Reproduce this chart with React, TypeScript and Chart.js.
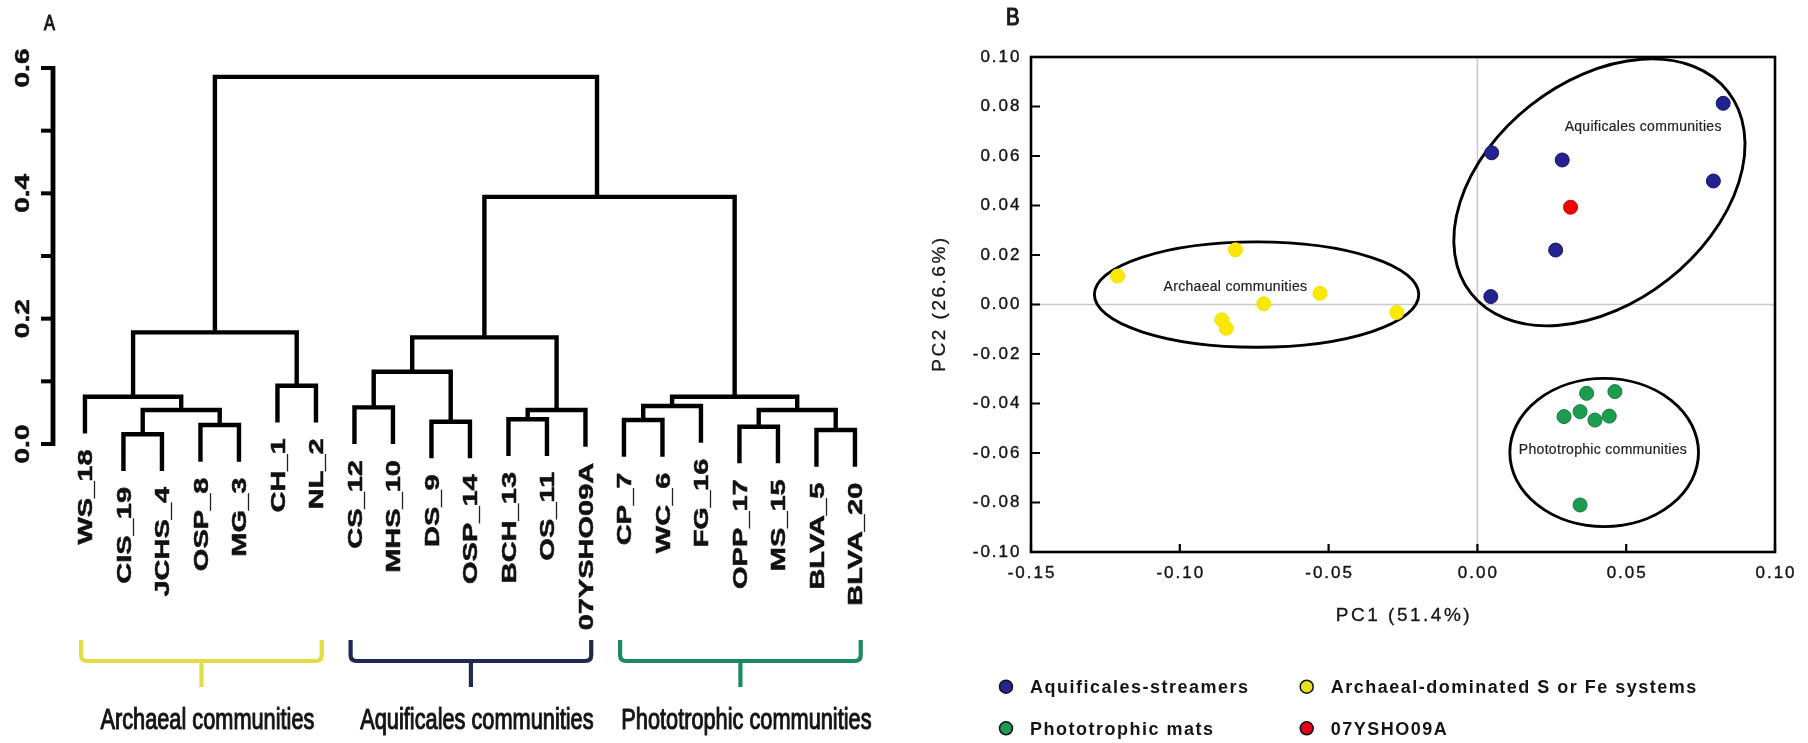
import React, { useEffect, useRef } from "react";
import { Chart, registerables } from "chart.js";

Chart.register(...registerables);

const FONT = '"Liberation Sans", Arial, Helvetica, sans-serif';

// ---------------- Panel A : dendrogram ----------------
const leafLabels = [
  "WS_18", "CIS_19", "JCHS_4", "OSP_8", "MG_3", "CH_1", "NL_2",
  "CS_12", "MHS_10", "DS_9", "OSP_14", "BCH_13", "OS_11", "07YSHO09A",
  "CP_7", "WC_6", "FG_16", "OPP_17", "MS_15", "BLVA_5", "BLVA_20",
];
// hclust-style merges: negative = leaf (1-based), positive = earlier merge (1-based)
const mergeLeft = [-2, -4, 1, -1, -6, 4, -8, -10, 7, -12, 10, 9, -15, 13, -18, -20, 15, 14, 12, 6];
const mergeRight = [-3, -5, 2, 3, -7, 5, -9, -11, 8, -13, -14, 11, -16, -17, -19, -21, 16, 17, 18, 19];
const mergeHeight = [
  0.0155, 0.0303, 0.0542, 0.0754, 0.093, 0.1781, 0.0585, 0.0356, 0.1153, 0.0394,
  0.0542, 0.1702, 0.0383, 0.0606, 0.0276, 0.0223, 0.0542, 0.0754, 0.3944, 0.5858,
];
const leafHang = 0.0585;
const stemOverrideMerge = [19];
const stemOverrideX = [13.3];
const dendroTicks = [0, 0.1, 0.2, 0.3, 0.4, 0.5, 0.6];
const dendroTickLabels = ["0.0", "", "0.2", "", "0.4", "", "0.6"];
const groupNames = ["Archaeal communities", "Aquificales communities", "Phototrophic communities"];
const groupFirstLeaf = [0, 7, 14];
const groupLastLeaf = [6, 13, 20];
const groupColors = ["#e2dd45", "#1e2a50", "#1c8a5f"];

// ---------------- Panel B : PCA ----------------
const seriesNames = ["Aquificales-streamers", "Archaeal-dominated S or Fe systems", "Phototrophic mats", "07YSHO09A"];
const aquiX = [0.0826, 0.0048, 0.0285, 0.0793, 0.0263, 0.0045];
const aquiY = [0.0813, 0.0613, 0.0584, 0.0499, 0.022, 0.0032];
const archX = [-0.1209, -0.0813, -0.0718, -0.0859, -0.0844, -0.0529, -0.0271];
const archY = [0.0115, 0.0221, 0.0003, -0.0062, -0.0096, 0.0045, -0.0032];
const photoX = [0.0367, 0.0462, 0.0291, 0.0345, 0.0395, 0.0443, 0.0345];
const photoY = [-0.0359, -0.0352, -0.0453, -0.0433, -0.0467, -0.0451, -0.081];
const refX = [0.0313];
const refY = [0.0393];
const seriesFill = ["#23238f", "#fbe800", "#1c9c4e", "#f20000"];
const seriesBorder = ["#15156a", "#f3e000", "#137a3a", "#d00000"];
const legendFill = ["#27278e", "#e8e21c", "#1f9a55", "#e3001b"];

const xTicks = [-0.15, -0.1, -0.05, 0, 0.05, 0.1];
const xTickLabels = ["-0.15", "-0.10", "-0.05", "0.00", "0.05", "0.10"];
const yTicks = [-0.1, -0.08, -0.06, -0.04, -0.02, 0, 0.02, 0.04, 0.06, 0.08, 0.1];
const yTickLabels = ["-0.10", "-0.08", "-0.06", "-0.04", "-0.02", "0.00", "0.02", "0.04", "0.06", "0.08", "0.10"];

const ellipseNames = ["Archaeal communities", "Aquificales communities", "Phototrophic communities"];
const ellipseCX = [-0.0742, 0.041, 0.0426];
const ellipseCY = [0.004, 0.0453, -0.0598];
const ellipseA = [0.0545, 0.0549, 0.0317]; // semi-axes in PC1 units
const ellipseB = [0.0177, 0.0373, 0.0249];
const ellipseAngle = [0, -38.2, 0];
const ellipseLabelX = [-0.0813, 0.0557, 0.0422];
const ellipseLabelY = [0.0072, 0.0717, -0.0588];

function buildDendrogram() {
  const n = mergeLeft.length;
  const nodeX: number[] = new Array(n);
  const childX = (c: number) => (c < 0 ? -c - 1 : nodeX[c - 1]);
  for (let m = 0; m < n; m++) {
    nodeX[m] = (childX(mergeLeft[m]) + childX(mergeRight[m])) / 2;
    const oi = stemOverrideMerge.indexOf(m + 1);
    if (oi >= 0) nodeX[m] = stemOverrideX[oi];
  }
  const leafEnd: number[] = new Array(leafLabels.length).fill(0);
  const pts: { x: number; y: number | null }[] = [];
  for (let m = 0; m < n; m++) {
    const h = mergeHeight[m];
    const a = mergeLeft[m];
    const b = mergeRight[m];
    const ya = a < 0 ? h - leafHang : mergeHeight[a - 1];
    const yb = b < 0 ? h - leafHang : mergeHeight[b - 1];
    if (a < 0) leafEnd[-a - 1] = ya;
    if (b < 0) leafEnd[-b - 1] = yb;
    const xa = childX(a);
    const xb = childX(b);
    pts.push({ x: xa, y: ya }, { x: xa, y: h }, { x: xb, y: h }, { x: xb, y: yb }, { x: xb, y: null });
  }
  return { pts, leafEnd };
}

function heavyText(ctx: CanvasRenderingContext2D, text: string, x: number, y: number, w: number) {
  ctx.fillText(text, x, y);
  if (w > 0) {
    ctx.lineWidth = w;
    ctx.strokeStyle = ctx.fillStyle as string;
    ctx.strokeText(text, x, y);
  }
}

export default function App() {
  const refA = useRef<HTMLCanvasElement>(null);
  const refB = useRef<HTMLCanvasElement>(null);

  useEffect(() => {
    const { pts, leafEnd } = buildDendrogram();

    const dendroDecor = {
      id: "dendroDecor",
      afterDraw(chart: any) {
        const { ctx, scales } = chart;
        const x = scales.x;
        const y = scales.y;
        const ax = chart.chartArea.left;
        ctx.save();
        // axis
        ctx.strokeStyle = "#000";
        ctx.lineCap = "butt";
        ctx.lineWidth = 4.8;
        ctx.beginPath();
        ctx.moveTo(ax, y.getPixelForValue(0) + 2);
        ctx.lineTo(ax, y.getPixelForValue(0.6) - 2);
        ctx.stroke();
        ctx.lineWidth = 4;
        dendroTicks.forEach((v) => {
          const py = y.getPixelForValue(v);
          ctx.beginPath();
          ctx.moveTo(ax - 12, py);
          ctx.lineTo(ax, py);
          ctx.stroke();
        });
        ctx.fillStyle = "#111";
        ctx.font = `bold 20px ${FONT}`;
        dendroTickLabels.forEach((lab, i) => {
          if (!lab) return;
          const py = y.getPixelForValue(dendroTicks[i]);
          ctx.save();
          ctx.translate(28.5, py);
          ctx.rotate(-Math.PI / 2);
          ctx.scale(1.4, 1);
          ctx.textAlign = "center";
          ctx.textBaseline = "alphabetic";
          heavyText(ctx, lab, 0, 0, 0.5);
          ctx.restore();
        });
        // leaf labels
        leafLabels.forEach((lab, i) => {
          const px = x.getPixelForValue(i);
          const py = y.getPixelForValue(leafEnd[i]) + 16;
          ctx.save();
          ctx.translate(px, py);
          ctx.rotate(-Math.PI / 2);
          ctx.scale(1.45, 1);
          ctx.textAlign = "right";
          ctx.textBaseline = "alphabetic";
          heavyText(ctx, lab, 0, 7.2, 0.5);
          ctx.restore();
        });
        // brackets
        const topY = 640, barY = 661, stemY = 687, r = 6;
        groupNames.forEach((name, g) => {
          const x1 = x.getPixelForValue(groupFirstLeaf[g] - 0.1);
          const x2 = x.getPixelForValue(groupLastLeaf[g] + 0.15);
          const cx = (x1 + x2) / 2;
          ctx.strokeStyle = groupColors[g];
          ctx.lineWidth = 4.2;
          ctx.lineJoin = "round";
          ctx.beginPath();
          ctx.moveTo(x1, topY);
          ctx.lineTo(x1, barY - r);
          ctx.quadraticCurveTo(x1, barY, x1 + r, barY);
          ctx.lineTo(x2 - r, barY);
          ctx.quadraticCurveTo(x2, barY, x2, barY - r);
          ctx.lineTo(x2, topY);
          ctx.stroke();
          ctx.beginPath();
          ctx.moveTo(cx, barY);
          ctx.lineTo(cx, stemY);
          ctx.stroke();
          ctx.save();
          ctx.translate(cx + 6, 729);
          ctx.scale(0.75, 1);
          ctx.fillStyle = "#151515";
          ctx.font = `29px ${FONT}`;
          ctx.textAlign = "center";
          ctx.textBaseline = "alphabetic";
          heavyText(ctx, name, 0, 0, 1.1);
          ctx.restore();
        });
        // panel letter
        ctx.save();
        ctx.translate(44, 30);
        ctx.scale(0.75, 1);
        ctx.fillStyle = "#1a1a1a";
        ctx.font = `22px ${FONT}`;
        ctx.textAlign = "left";
        heavyText(ctx, "A", 0, 0, 1.2);
        ctx.restore();
        ctx.restore();
      },
    };

    const chartA = new Chart(refA.current as HTMLCanvasElement, {
      type: "line",
      data: {
        datasets: [
          {
            data: pts as any,
            borderColor: "#000",
            borderWidth: 4.4,
            pointRadius: 0,
            pointHoverRadius: 0,
            spanGaps: false,
            tension: 0,
            borderJoinStyle: "miter",
            borderCapStyle: "butt",
            fill: false,
            clip: false as any,
          } as any,
        ],
      },
      options: {
        animation: false,
        responsive: false,
        maintainAspectRatio: false,
        events: [],
        layout: { padding: { left: 53, right: 20, top: 68, bottom: 261.4 } },
        scales: {
          x: { type: "linear", min: -0.83, max: 21.17, display: false },
          y: { type: "linear", min: -0.06, max: 0.6, display: false },
        },
        plugins: { legend: { display: false }, tooltip: { enabled: false } },
      },
      plugins: [dendroDecor as any],
    });

    const toPts = (xs: number[], ys: number[]) => xs.map((v, i) => ({ x: v, y: ys[i] }));
    const seriesData = [toPts(aquiX, aquiY), toPts(archX, archY), toPts(photoX, photoY), toPts(refX, refY)];

    const pcaDecor = {
      id: "pcaDecor",
      beforeDatasetsDraw(chart: any) {
        const { ctx, chartArea: ca, scales } = chart;
        const x = scales.x;
        const y = scales.y;
        ctx.save();
        ctx.strokeStyle = "#c8c8c8";
        ctx.lineWidth = 1.5;
        const x0 = x.getPixelForValue(0);
        const y0 = y.getPixelForValue(0);
        ctx.beginPath();
        ctx.moveTo(x0, ca.top);
        ctx.lineTo(x0, ca.bottom);
        ctx.moveTo(ca.left, y0);
        ctx.lineTo(ca.right, y0);
        ctx.stroke();
        const pxPerX = Math.abs(x.getPixelForValue(1) - x.getPixelForValue(0));
        ctx.strokeStyle = "#000";
        ctx.lineWidth = 2.9;
        ellipseNames.forEach((_, i) => {
          ctx.beginPath();
          ctx.ellipse(
            x.getPixelForValue(ellipseCX[i]),
            y.getPixelForValue(ellipseCY[i]),
            ellipseA[i] * pxPerX,
            ellipseB[i] * pxPerX,
            (ellipseAngle[i] * Math.PI) / 180,
            0,
            Math.PI * 2
          );
          ctx.stroke();
        });
        ctx.restore();
      },
      afterDraw(chart: any) {
        const { ctx, chartArea: ca, scales } = chart;
        const x = scales.x;
        const y = scales.y;
        ctx.save();
        // ellipse labels
        ctx.fillStyle = "#222";
        ctx.font = `14px ${FONT}`;
        (ctx as any).letterSpacing = "0.3px";
        ctx.textAlign = "center";
        ctx.textBaseline = "middle";
        ellipseNames.forEach((name, i) => {
          heavyText(ctx, name, x.getPixelForValue(ellipseLabelX[i]), y.getPixelForValue(ellipseLabelY[i]), 0.2);
        });
        // frame
        ctx.strokeStyle = "#000";
        ctx.lineWidth = 2.6;
        ctx.strokeRect(ca.left, ca.top, ca.right - ca.left, ca.bottom - ca.top);
        ctx.lineWidth = 2.2;
        ctx.beginPath();
        yTicks.forEach((v) => {
          const py = y.getPixelForValue(v);
          ctx.moveTo(ca.left, py);
          ctx.lineTo(ca.left + 9, py);
        });
        xTicks.forEach((v) => {
          const px = x.getPixelForValue(v);
          ctx.moveTo(px, ca.bottom);
          ctx.lineTo(px, ca.bottom - 8);
        });
        ctx.stroke();
        // tick labels
        ctx.fillStyle = "#161616";
        ctx.font = `17px ${FONT}`;
        (ctx as any).letterSpacing = "2px";
        ctx.textAlign = "right";
        ctx.textBaseline = "middle";
        yTickLabels.forEach((lab, i) => {
          heavyText(ctx, lab, ca.left - 9.5, y.getPixelForValue(yTicks[i]), 0.4);
        });
        ctx.textAlign = "center";
        xTickLabels.forEach((lab, i) => {
          heavyText(ctx, lab, x.getPixelForValue(xTicks[i]) + 1, 573, 0.4);
        });
        // axis titles
        ctx.font = `19px ${FONT}`;
        (ctx as any).letterSpacing = "2.5px";
        ctx.textBaseline = "alphabetic";
        heavyText(ctx, "PC1 (51.4%)", (ca.left + ca.right) / 2 + 1, 621, 0.3);
        ctx.save();
        ctx.translate(25, (ca.top + ca.bottom) / 2);
        ctx.rotate(-Math.PI / 2);
        heavyText(ctx, "PC2 (26.6%)", 1, 0, 0.3);
        ctx.restore();
        // legend
        const lx = [86, 386.7];
        const ly = [686.7, 728.3];
        ctx.font = `bold 18px ${FONT}`;
        (ctx as any).letterSpacing = "1.5px";
        ctx.textAlign = "left";
        seriesNames.forEach((name, i) => {
          const cx = lx[i % 2];
          const cy = ly[Math.floor(i / 2)];
          ctx.beginPath();
          ctx.arc(cx, cy, 6.5, 0, Math.PI * 2);
          ctx.fillStyle = legendFill[i];
          ctx.fill();
          ctx.lineWidth = 1.5;
          ctx.strokeStyle = "#111";
          ctx.stroke();
          ctx.fillStyle = "#151515";
          ctx.fillText(name, cx + 24, cy + 6.6);
        });
        // panel letter
        (ctx as any).letterSpacing = "0px";
        ctx.save();
        ctx.translate(86, 25);
        ctx.scale(0.85, 1);
        ctx.font = `24px ${FONT}`;
        ctx.fillStyle = "#1a1a1a";
        heavyText(ctx, "B", 0, 0, 1.2);
        ctx.restore();
        ctx.restore();
      },
    };

    const chartB = new Chart(refB.current as HTMLCanvasElement, {
      type: "scatter",
      data: {
        datasets: seriesNames.map((name, i) => ({
          label: name,
          data: seriesData[i],
          backgroundColor: seriesFill[i],
          borderColor: seriesBorder[i],
          borderWidth: 1,
          pointRadius: 7,
          pointHoverRadius: 7,
        })),
      },
      options: {
        animation: false,
        responsive: false,
        maintainAspectRatio: false,
        events: [],
        layout: { padding: { left: 111, right: 33, top: 57, bottom: 191 } },
        scales: {
          x: { type: "linear", min: -0.15, max: 0.1, display: false },
          y: { type: "linear", min: -0.1, max: 0.1, display: false },
        },
        plugins: { legend: { display: false }, tooltip: { enabled: false } },
      },
      plugins: [pcaDecor as any],
    });

    return () => {
      chartA.destroy();
      chartB.destroy();
    };
  }, []);

  return (
    <div
      style={{
        position: "absolute",
        left: 0,
        top: 0,
        width: 1808,
        height: 743,
        background: "#fff",
        overflow: "hidden",
      }}
    >
      <canvas
        ref={refA}
        width={920}
        height={743}
        style={{ position: "absolute", left: 0, top: 0, width: 920, height: 743 }}
      />
      <canvas
        ref={refB}
        width={888}
        height={743}
        style={{ position: "absolute", left: 920, top: 0, width: 888, height: 743 }}
      />
    </div>
  );
}
